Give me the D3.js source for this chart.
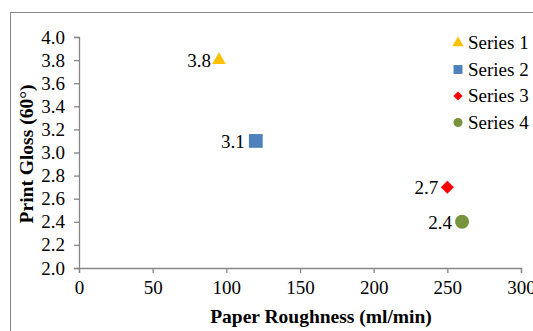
<!DOCTYPE html>
<html><head><meta charset="utf-8">
<script src="https://cdn.jsdelivr.net/npm/d3@7"></script>
<style>body{margin:0;background:#fff}svg{display:block}</style>
</head><body>
<svg id="c" width="533" height="331"></svg>
<script>
const seriesNames = ["Series 1","Series 2","Series 3","Series 4"];
const xValues = [95, 120, 250, 260];
const yValues = [3.8, 3.1, 2.7, 2.4];
const colors = ["#FFC000","#4F81BD","#FF0000","#77933C"];
const xTicks = [0,50,100,150,200,250,300];
const yTicks = [2.0,2.2,2.4,2.6,2.8,3.0,3.2,3.4,3.6,3.8,4.0];

const FONT = "'Liberation Serif', 'Times New Roman', Times, serif";
const shapes = [d3.symbolTriangle, d3.symbolSquare, d3.symbolSquare, d3.symbolCircle];
const rot = [0, 0, 45, 0];
const sizes = [80, 190, 85, 154];
const legSizes = [55, 80, 42, 64];
const labelGap = [8, 11, 9, 10];

const svg = d3.select("#c");
svg.append("rect").attr("x",10.5).attr("y",12.5).attr("width",540).attr("height",330)
  .attr("fill","#fff").attr("stroke","#868686");

const x = d3.scaleLinear().domain([0,300]).range([79,521]);
const y = d3.scaleLinear().domain([2,4]).range([268,37]);
const axisColor = "#868686";

const gx = svg.append("g").attr("transform","translate(0,268)")
  .call(d3.axisBottom(x).tickValues(xTicks).tickSize(5).tickPadding(8).tickFormat(d3.format("d")));
const gy = svg.append("g").attr("transform","translate(79,0)")
  .call(d3.axisLeft(y).tickValues(yTicks).tickSize(5).tickPadding(9).tickFormat(d3.format(".1f")));
[gx,gy].forEach(g=>{
  g.attr("font-family",null).attr("font-size",null);
  g.selectAll("path,line").attr("stroke",axisColor).attr("stroke-width",1.3);
  g.selectAll("text").style("font-family",FONT).style("font-size","19px").attr("fill","#000");
});

svg.append("text").attr("x",321).attr("y",323).attr("text-anchor","middle")
  .style("font-family",FONT).style("font-size","19.5px").style("font-weight","bold")
  .text("Paper Roughness (ml/min)");
svg.append("text").attr("transform","translate(33,154) rotate(-90)").attr("text-anchor","middle")
  .style("font-family",FONT).style("font-size","19.5px").style("font-weight","bold")
  .text("Print Gloss (60°)");

const idx = d3.range(seriesNames.length);
svg.selectAll(".pt").data(idx).join("path")
  .attr("transform",i=>`translate(${x(xValues[i])},${y(yValues[i])}) rotate(${rot[i]})`)
  .attr("d",i=>d3.symbol().type(shapes[i]).size(sizes[i])())
  .attr("fill",i=>colors[i]);
svg.selectAll(".lbl").data(idx).join("text")
  .attr("x",i=>x(xValues[i])-labelGap[i]).attr("y",i=>y(yValues[i])+7)
  .attr("text-anchor","end")
  .style("font-family",FONT).style("font-size","19px")
  .text(i=>yValues[i].toFixed(1));

const leg = svg.append("g");
idx.forEach(i=>{
  const ly = 43 + i*26.5;
  leg.append("path").attr("transform",`translate(458,${ly}) rotate(${rot[i]})`)
    .attr("d",d3.symbol().type(shapes[i]).size(legSizes[i])()).attr("fill",colors[i]);
  leg.append("text").attr("x",468).attr("y",ly+6)
    .style("font-family",FONT).style("font-size","19px").text(seriesNames[i]);
});
</script>
</body></html>
